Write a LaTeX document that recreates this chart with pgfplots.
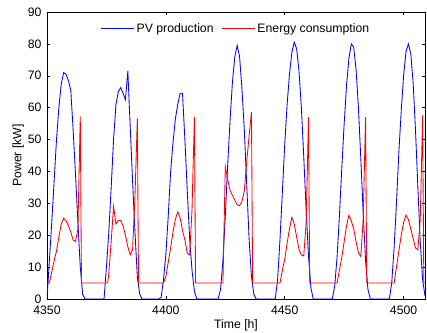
\documentclass[border=0pt]{standalone}
\usepackage{pgfplots}
\pgfplotsset{compat=1.18}
\usepackage{fontspec}
\setmainfont{Liberation Sans}
\begin{document}
\begin{tikzpicture}
\begin{axis}[
  name=ax,
  scale only axis,
  width=378bp, height=287bp,
  xmin=4350, xmax=4509, ymin=0, ymax=90,
  xtick={4350,4400,4450,4500},
  ytick={0,10,...,90},
  /pgf/number format/1000 sep={},
  /pgf/number format/assume math mode=true,
  tick align=inside,
  major tick length=3bp,
  tick style={black, line width=0.5bp},
  axis line style={black, line width=0.6bp},
  font=\fontsize{12.3}{14}\selectfont,
  ticklabel style={font=\fontsize{12.3}{14}\selectfont},
  xticklabel style={yshift=-3bp},
  yticklabel style={xshift=-2bp},
  xlabel={Time [h]},
  ylabel={Power [kW]},
  xlabel style={yshift=1bp},
  ylabel style={yshift=-3bp},
  legend style={draw=none, fill=none, at={(0.5,0.975)}, anchor=north,
    legend columns=2, font=\fontsize{12.3}{14}\selectfont,
    /tikz/every even column/.append style={column sep=6bp}},
  legend image code/.code={\draw[#1] (0bp,0bp) -- (33bp,0bp);},
]
\addplot[blue, line width=0.85bp] coordinates {
(4350,0) (4351,12) (4352,24) (4353,37) (4354,50) (4355,60) (4356,67.5) (4357,71) (4358,70.5) (4359,68.5) (4360,65.5) (4361,53) (4362,39) (4363,24) (4364,10) (4365,1.5) (4366,0)
(4374,0) (4375,10) (4376,21) (4377,35) (4378,50) (4379,61) (4380,65) (4381,66.3) (4382,64.5) (4383,62.5) (4384,71.5) (4385,54) (4386,37) (4387,21) (4388,7) (4389,1.5) (4390,0)
(4397,0) (4398,0.5) (4399,6) (4400,14) (4401,26) (4402,40) (4403,49) (4404,56.5) (4405,61) (4406,64.5) (4407,64.5) (4408,50) (4409,34) (4410,19) (4411,9) (4412,2.5) (4413,0)
(4422,0) (4423,3) (4424,12) (4425,26) (4426,42) (4427,56) (4428,68) (4429,76) (4430,79.5) (4431,76) (4432,66) (4433,53) (4434,36) (4435,19) (4436,7) (4437,1.5) (4438,0)
(4446,0) (4447,6) (4448,18.6) (4449,33.5) (4450,48.5) (4451,61) (4452,70.5) (4453,77.3) (4454,80.5) (4455,78.5) (4456,71.5) (4457,60) (4458,44.6) (4459,28) (4460,13.5) (4461,3.5) (4462,0)
(4470,0) (4471,4) (4472,13) (4473,26) (4474,41) (4475,55) (4476,67) (4477,75.5) (4478,80) (4479,79) (4480,72) (4481,60) (4482,44) (4483,27) (4484,12) (4485,3) (4486,0)
(4494,0) (4495,5) (4496,16) (4497,30) (4498,46) (4499,59) (4500,70) (4501,77.5) (4502,80) (4503,77) (4504,68) (4505,53) (4506,35) (4507,18) (4508,6) (4509,1)
};
\addlegendentry{PV production}
\addplot[red, line width=0.85bp] coordinates {
(4350,5) (4351,5) (4352,8.5) (4353,12) (4354,15) (4355,19.5) (4356,23.5) (4357,25.3) (4358,24.5) (4359,23) (4360,21) (4361,18.5) (4362,18) (4363,22) (4364,57.3) (4364.5,5)
(4375.5,5) (4376,8) (4377,18) (4378,29) (4379,23.5) (4380,24.6) (4381,24.6) (4382,23) (4383,20) (4384,16.4) (4385,13.8) (4386,15.5) (4387,32) (4388,56.6) (4388.5,5)
(4399,5) (4400,7) (4401,11.5) (4402,16) (4403,21) (4404,25) (4405,27.3) (4406,25.5) (4407,21.5) (4408,18.5) (4409,14.5) (4410,13.8) (4411,28) (4412,57) (4412.5,5)
(4424,5) (4425,41.5) (4426,37.5) (4427,34) (4428,32.5) (4429,31) (4430,29.5) (4431,29.3) (4432,30.5) (4433,34) (4434,43) (4435,51) (4436,58.6) (4436.5,5)
(4448,5) (4449,9) (4450,12.5) (4451,17.5) (4452,22) (4453,25.6) (4454,23.5) (4455,19.5) (4456,15.5) (4457,13.8) (4458,13.5) (4459,24) (4460,57) (4460.5,5)
(4472,5) (4473,9) (4474,13) (4475,18) (4476,23) (4477,26.3) (4478,24.5) (4479,22) (4480,18) (4481,14.5) (4482,13.3) (4483,25) (4484,57) (4484.5,5)
(4496,5) (4497,10) (4498,15) (4499,20) (4500,24) (4501,26.3) (4502,25) (4503,22) (4504,19) (4505,16) (4506,15.4) (4507,25) (4508,57.6) (4508.5,5) (4509,5)
};
\addlegendentry{Energy consumption}
\end{axis}
\pgfresetboundingbox
\path ([shift={(-47bp,-33.7bp)}]ax.south west) rectangle ([shift={(2bp,12bp)}]ax.north east);
\end{tikzpicture}
\end{document}
